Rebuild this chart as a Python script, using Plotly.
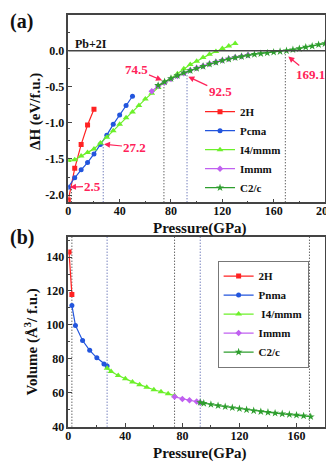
import plotly.graph_objects as go
from plotly.subplots import make_subplots

# ---- (a) enthalpy difference vs pressure ----
p_2h_a = [0, 5, 10, 15, 20]
dh_2h = [-2.07, -1.63, -1.30, -1.03, -0.81]

p_pcma = [0, 5, 10, 15, 20, 25, 30, 35, 40, 45, 50]
dh_pcma = [-1.89, -1.76, -1.65, -1.55, -1.43, -1.30, -1.17, -1.02, -0.89, -0.76, -0.63]

p_i4_a = [0, 5, 10, 15, 20, 25, 30, 35, 40, 45, 50, 55, 60, 65, 70, 75, 80, 85, 90,
          95, 100, 105, 110, 115, 120, 125, 130]
dh_i4 = [-1.52, -1.51, -1.46, -1.41, -1.36, -1.28, -1.20, -1.11, -1.02, -0.93, -0.85,
         -0.76, -0.67, -0.59, -0.51, -0.43, -0.38, -0.32, -0.25, -0.19, -0.145, -0.095,
         -0.05, -0.01, 0.03, 0.065, 0.10]

p_immm_a = [65, 70, 75, 80, 85, 90, 95, 100, 105, 110, 115, 120, 125, 130, 135, 140]
dh_immm = [-0.56, -0.49, -0.44, -0.39, -0.35, -0.31, -0.27, -0.24, -0.21, -0.18,
           -0.155, -0.13, -0.11, -0.09, -0.075, -0.06]

p_c2c_a = [70, 75, 80, 85, 90, 95, 100, 105, 110, 115, 120, 125, 130, 135, 140, 145,
           150, 155, 160, 165, 170, 175, 180, 185, 190, 195, 200]
dh_c2c = [-0.48, -0.43, -0.385, -0.345, -0.305, -0.275, -0.245, -0.215, -0.185, -0.16,
          -0.135, -0.115, -0.095, -0.08, -0.065, -0.05, -0.04, -0.03, -0.02, -0.01,
          0.0, 0.015, 0.03, 0.05, 0.065, 0.085, 0.10]

# transition pressures and the enthalpy where they happen
p_trans = [2.5, 27.2, 74.5, 92.5, 169.1]
dh_trans = [-1.84, -1.27, -0.44, -0.29, 0.0]
trans_labels = ["2.5", "27.2", "74.5", "92.5", "169.1"]
trans_colors = ["#222222", "#3a4aa0", "#222222", "#3a4aa0", "#222222"]

# ---- (b) volume vs pressure ----
p_2h_b = [0.5, 2.5]
v_2h = [143.0, 118.0]
p_pnma = [2.5, 5, 10, 15, 20, 25, 27.2]
v_pnma = [111.5, 99.7, 90.8, 85.0, 80.6, 77.0, 75.8]
p_i4_b = [27.2, 30, 35, 40, 45, 50, 55, 60, 65, 70, 74.5]
v_i4 = [74.5, 72.6, 70.2, 68.2, 66.4, 64.8, 63.2, 61.8, 60.6, 59.4, 58.3]
p_immm_b = [74.5, 80, 85, 90, 92.5]
v_immm = [57.6, 56.4, 55.6, 54.8, 54.3]
p_c2c_b = [92.5, 95, 100, 105, 110, 115, 120, 125, 130, 135, 140, 145, 150, 155, 160,
           165, 170]
v_c2c = [54.3, 53.8, 53.1, 52.4, 51.8, 51.2, 50.6, 50.0, 49.4, 48.9, 48.5, 48.0, 47.6,
         47.2, 46.8, 46.4, 45.9]

RED = "#ff2222"
BLUE = "#2255dd"
LIME = "#6cf02a"
PURPLE = "#c060f0"
GREEN = "#2e9e2e"
LABEL = "#ff2259"
INK = "#111111"
FONT = "Liberation Serif"

# page body adds an 8px margin, so the figure is 8px smaller than the window
fig = make_subplots(rows=2, cols=1)

series_a = [
    (p_2h_a, dh_2h, "2H", RED, "square", 5),
    (p_pcma, dh_pcma, "Pcma", BLUE, "circle", 5),
    (p_i4_a, dh_i4, "I4/mmm", LIME, "triangle-up", 6),
    (p_immm_a, dh_immm, "Immm", PURPLE, "diamond", 5),
    (p_c2c_a, dh_c2c, "C2/c", GREEN, "star", 6),
]
series_b = [
    (p_2h_b, v_2h, "2H", RED, "square", 5),
    (p_pnma, v_pnma, "Pnma", BLUE, "circle", 5),
    (p_i4_b, v_i4, " I4/mmm", LIME, "triangle-up", 6),
    (p_immm_b, v_immm, "Immm", PURPLE, "diamond", 5),
    (p_c2c_b, v_c2c, "C2/c", GREEN, "star", 6),
]

# dotted transition lines
for p, h, c in zip(p_trans, dh_trans, trans_colors):
    fig.add_trace(go.Scatter(x=[p, p], y=[-2.1, h], mode="lines", showlegend=False,
                             line=dict(color=c, width=1, dash="1px,2px")), row=1, col=1)
    fig.add_trace(go.Scatter(x=[p, p], y=[40, 152], mode="lines", showlegend=False,
                             line=dict(color=c, width=1, dash="1px,2px")), row=2, col=1)

for x, y, name, col, sym, sz in series_a:
    fig.add_trace(go.Scatter(x=x, y=y, name=name, mode="lines+markers", legend="legend",
                             line=dict(color=col, width=1.2),
                             marker=dict(symbol=sym, size=sz, color=col)), row=1, col=1)
for x, y, name, col, sym, sz in series_b:
    fig.add_trace(go.Scatter(x=x, y=y, name=name, mode="lines+markers", legend="legend2",
                             line=dict(color=col, width=1.2),
                             marker=dict(symbol=sym, size=sz, color=col)), row=2, col=1)

# Pb+2I reference line
fig.add_shape(type="line", xref="x domain", yref="y", x0=0, x1=1, y0=0, y1=0,
              line=dict(color="#444444", width=1.6))

# transition labels with arrows
arrow_off = [(23, -1), (31, 3), (-26, -11), (32, 15), (22, 18)]
arrow_at = [(1.3, -1.89), (27.8, -1.296), (73.0, -0.41), (93.5, -0.36), (171.4, -0.08)]
for lab, (hx, hy), (ax, ay) in zip(trans_labels, arrow_at, arrow_off):
    fig.add_annotation(x=hx, y=hy, xref="x", yref="y", ax=ax, ay=ay, text=lab,
                       showarrow=True, arrowhead=2, arrowsize=1, arrowwidth=1.2,
                       arrowcolor=LABEL, font=dict(family=FONT, size=13, color=LABEL,
                                                   weight="bold"))

fig.add_annotation(x=18, y=0.1, xref="x", yref="y", text="Pb+2I", showarrow=False,
                   font=dict(family=FONT, size=12, color=INK, weight="bold"))

big = dict(family=FONT, size=20, color=INK, weight="bold")
titlefont = dict(family=FONT, size=15, color=INK, weight="bold")


def label(x, y, text, font, angle=0, xanchor="center", yanchor="middle"):
    fig.add_annotation(x=x, y=y, xref="paper", yref="paper", xanchor=xanchor,
                       yanchor=yanchor, text=text, textangle=angle, showarrow=False,
                       font=font)


label(0.0, 1.0, "(a)", big, xanchor="left", yanchor="top")
label(0.0, 0.4967, "(b)", big, xanchor="left")
# axis titles
label(0.589, 0.5158, "Pressure(GPa)", titlefont)
label(0.589, 0.02, "Pressure(GPa)", titlefont)
label(0.0828, 0.7736, "ΔH (eV/f.u.)", titlefont, angle=-90)
label(0.0727, 0.2666, "Volume (Å<sup>3</sup>/ f.u.)", titlefont, angle=-90)

tickfont = dict(family=FONT, size=12, color=INK, weight="bold")
axis_common = dict(showline=True, mirror=True, linecolor="#444444", linewidth=1.5,
                   ticks="inside", ticklen=4, tickcolor="#444444", showgrid=False,
                   zeroline=False, tickfont=tickfont, automargin=False)
minor_x = dict(dtick=20, ticks="inside", ticklen=2, tickcolor="#444444")

xdom = [0.185, 0.9724]
fig.update_layout(
    width=326, height=455, margin=dict(l=0, r=0, t=0, b=0),
    plot_bgcolor="white", paper_bgcolor="white",
    xaxis=dict(domain=xdom, range=[0, 200], tickvals=[0, 40, 80, 120, 160, 200],
               minor=minor_x, ticklabelstandoff=-3, **axis_common),
    yaxis=dict(domain=[0.573, 0.9853], range=[-2.1, 0.5],
               tickvals=[-2.0, -1.5, -1.0, -0.5, 0.0, 0.5],
               ticktext=["-2.0", "-1.5", "-1.0", "-0.5", "0.0", "0.5"],
               minor=dict(dtick=0.25, tick0=0, ticks="inside", ticklen=2,
                          tickcolor="#444444"),
               **axis_common),
    xaxis2=dict(domain=xdom, range=[0, 180], tickvals=[0, 40, 80, 120, 160],
                minor=minor_x, ticklabelstandoff=-3, **axis_common),
    yaxis2=dict(domain=[0.0798, 0.4973], range=[40, 152],
                tickvals=[40, 60, 80, 100, 120, 140],
                minor=dict(dtick=10, tick0=0, ticks="inside", ticklen=2,
                           tickcolor="#444444"),
                **axis_common),
    legend=dict(x=0.589, y=0.804, xanchor="left", yanchor="top",
                bgcolor="rgba(0,0,0,0)",
                font=dict(family=FONT, size=11, color=INK, weight="bold"),
                itemwidth=30, tracegroupgap=0),
    legend2=dict(x=0.643, y=0.445, xanchor="left", yanchor="top", bgcolor="white",
                 bordercolor="#777777", borderwidth=1,
                 font=dict(family=FONT, size=11, color=INK, weight="bold"),
                 itemwidth=30, tracegroupgap=0),
)

fig.write_html("out.html")
